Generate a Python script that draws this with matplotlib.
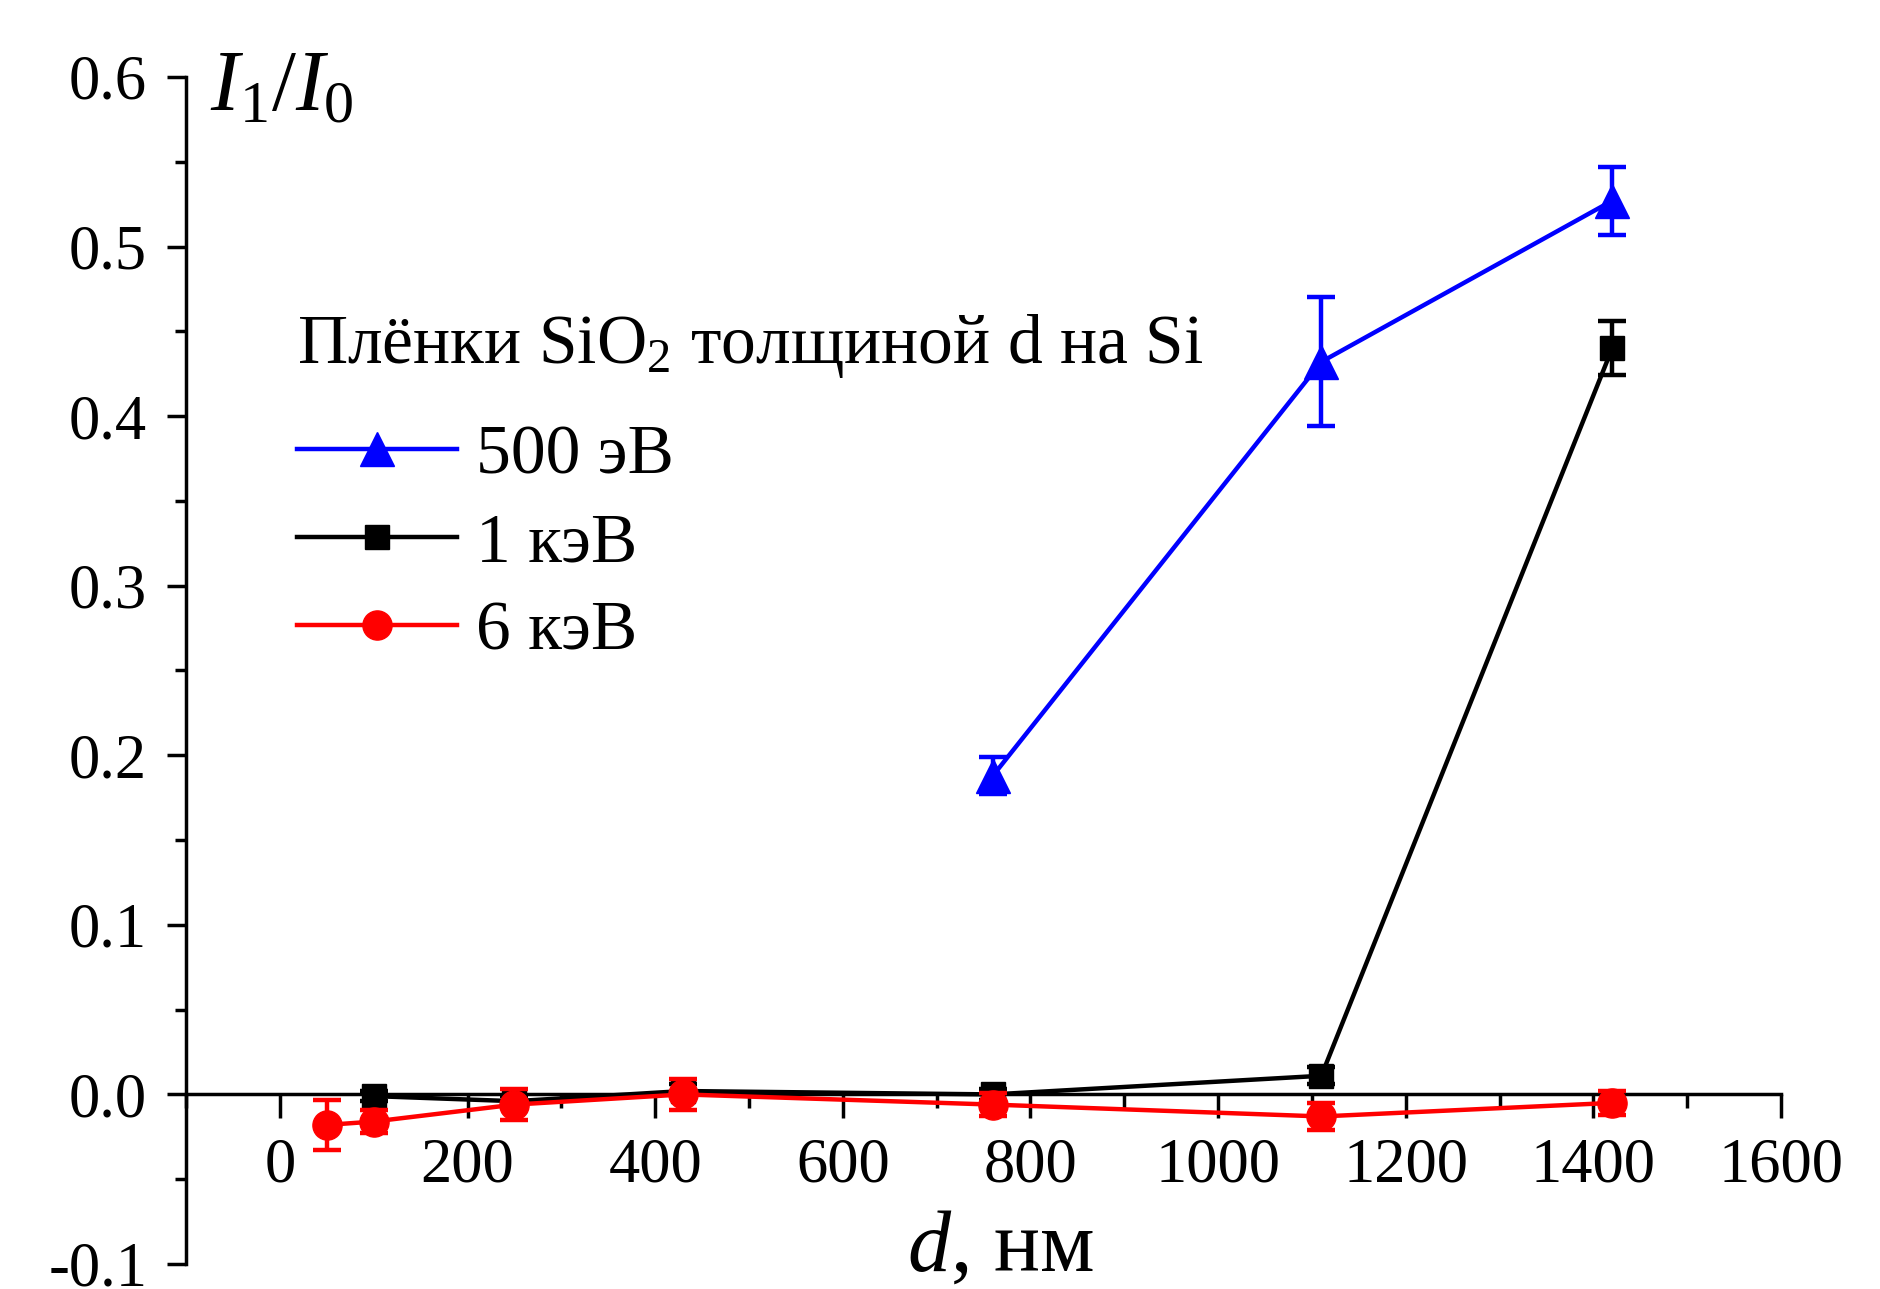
import matplotlib
matplotlib.use('Agg')
import matplotlib.pyplot as plt
from matplotlib.ticker import MultipleLocator, FormatStrFormatter

# данные: толщина плёнки d (нм) и I1/I0 для трёх энергий
d_500 = [760, 1110, 1420]
i_500 = [0.188, 0.432, 0.527]
e_500 = [0.011, 0.038, 0.020]

d_1k = [100, 250, 430, 760, 1110, 1420]
i_1k = [-0.001, -0.004, 0.002, 0.0, 0.011, 0.440]
e_1k = [0.003, 0.003, 0.004, 0.003, 0.005, 0.016]

d_6k = [50, 100, 250, 430, 760, 1110, 1420]
i_6k = [-0.018, -0.016, -0.006, 0.0, -0.006, -0.013, -0.005]
e_6k = [0.015, 0.007, 0.009, 0.009, 0.007, 0.008, 0.007]

labels = ['500 эВ', '1 кэВ', '6 кэВ']
legend_title = 'Плёнки SiO$_2$ толщиной d на Si'

plt.rcParams['font.family'] = ['Liberation Serif', 'DejaVu Serif']
plt.rcParams['mathtext.fontset'] = 'custom'
plt.rcParams['mathtext.rm'] = 'Liberation Serif'
plt.rcParams['mathtext.it'] = 'Liberation Serif:italic'
plt.rcParams['axes.unicode_minus'] = False

fig = plt.figure(figsize=(18.81, 12.89), dpi=100)
ax = fig.add_axes([0.0989, 0.0194, 0.848, 0.9209])

series = [
    (d_500, i_500, e_500, '#0000ff', '^', 24, 1),
    (d_1k, i_1k, e_1k, 'black', 's', 17, 2),
    (d_6k, i_6k, e_6k, '#ff0000', 'o', 21, 3),
]
handles = []
for (x, y, e, c, m, ms, z), lab in zip(series, labels):
    h, = ax.plot(x, y, color=c, marker=m, ms=ms, lw=3.2, label=lab, zorder=z + 2)
    ax.errorbar(x, y, yerr=e, fmt='none', ecolor=c, elinewidth=3.2,
                capsize=10, capthick=3.2, zorder=z + 2)
    handles.append(h)

ax.set_xlim(-100, 1600)
ax.set_ylim(-0.1, 0.6)

# оси как в Origin: x-ось проходит через ноль
ax.spines['top'].set_visible(False)
ax.spines['right'].set_visible(False)
ax.spines['bottom'].set_position(('data', 0))
for s in ['left', 'bottom']:
    ax.spines[s].set_linewidth(2.5)

ax.xaxis.set_major_locator(MultipleLocator(200))
ax.xaxis.set_minor_locator(MultipleLocator(100))
ax.yaxis.set_major_locator(MultipleLocator(0.1))
ax.yaxis.set_minor_locator(MultipleLocator(0.05))
ax.yaxis.set_major_formatter(FormatStrFormatter('%.1f'))

ax.tick_params(axis='x', which='major', direction='out', length=17, width=2.5,
               labelsize=45, pad=14)
ax.tick_params(axis='x', which='minor', direction='out', length=10, width=2.5)
ax.tick_params(axis='y', which='major', direction='out', length=14, width=2.5,
               labelsize=45, pad=14)
ax.tick_params(axis='y', which='minor', direction='out', length=8, width=2.5)

# заголовок легенды отдельным текстом
fig.text(0.158, 0.7184, legend_title, fontsize=50, va='baseline', ha='left')
leg = ax.legend(handles=handles, loc='upper left',
                bbox_to_anchor=(0.0696, 0.707), frameon=False, fontsize=50,
                handlelength=2.3, handletextpad=0.28,
                labelspacing=0.35, borderpad=0, borderaxespad=0)

fig.text(0.1116, 0.9147, r'$I_1/I_0$', fontsize=62, va='baseline', ha='left')
fig.text(0.532, 0.014, r'$d$, нм', fontsize=62, va='baseline', ha='center')

plt.savefig('out.png', dpi=100)
